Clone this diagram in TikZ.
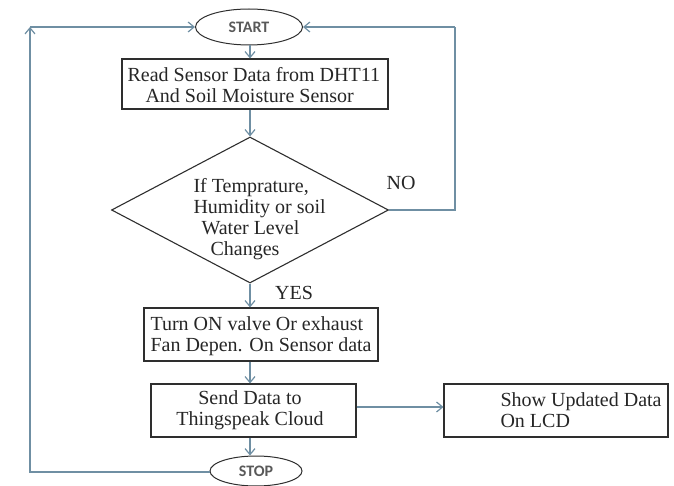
\documentclass[tikz,border=0pt]{standalone}
\usepackage{fontspec}
\setmainfont{Liberation Serif}
\newfontfamily\boxfont{Liberation Serif}
\newfontfamily\termfont{Carlito}
\usetikzlibrary{shapes.geometric,arrows.meta}
\definecolor{linkc}{HTML}{6F8FA3}
\definecolor{edgec}{HTML}{2E2E2E}
\begin{document}
\begin{tikzpicture}[x=1pt,y=-1pt,
  every node/.style={font=\boxfont\fontsize{20}{21}\selectfont, text=black!85},
  terminal/.style={ellipse,draw=edgec,line width=1pt,inner sep=0pt,font=\termfont\bfseries\fontsize{16}{18}\selectfont,text=black!65},
  proc/.style={rectangle,draw=edgec,line width=1.1pt,inner sep=0pt},
  decision/.style={diamond,draw=edgec,line width=1.1pt,inner sep=0pt,minimum width=277pt,minimum height=146pt},
  link/.style={draw=linkc,line width=1.2pt,-{Straight Barb[length=6pt,width=10pt]}},
  plain/.style={draw=linkc,line width=1.2pt}]
\useasboundingbox (0,0) rectangle (674,486);
% terminals
\node[terminal,minimum width=107pt,minimum height=36pt] (start) at (249,27) {START};
\node[terminal,minimum width=92pt,minimum height=30pt] (stop) at (256,471) {STOP};
% process boxes
\node[proc,minimum width=266pt,minimum height=50pt] (read) at (255,84) {};
\node[align=left,anchor=west] (readt) at (124,85) {Read Sensor Data from DHT11\\\hspace{18pt}And Soil Moisture Sensor};
\node[decision] (dec) at (250,210) {};
\node[align=left,anchor=west] (dect) at (190,219) {If Temprature,\\Humidity or soil\\\hspace{8pt}Water Level\\\hspace{17pt}Changes};
\node[proc,minimum width=234pt,minimum height=53pt] (turn) at (261,334.5) {};
\node[align=left,anchor=west] (turnt) at (147,336) {Turn ON valve Or exhaust\\Fan Depen. On Sensor data};
\node[proc,minimum width=205pt,minimum height=53pt] (send) at (253.5,410.5) {};
\node[align=center] (sendt) at (250,410) {Send Data to\\Thingspeak Cloud};
\node[proc,minimum width=224pt,minimum height=53pt] (lcd) at (556,410.5) {};
\node[align=left,anchor=west] (lcdt) at (497,410) {Show Updated Data\\On LCD};
% branch labels
\node (yes) at (294,293) {YES};
\node (no) at (401,183) {NO};
% loop corners
\coordinate (lc) at (30,27);
\coordinate (lb) at (30,472);
\coordinate (rc) at (455,27);
\coordinate (rb) at (455,210);
% connectors
\draw[link] (start.south -| 250,0) -- (250,0 |- read.north);
\draw[link] (250,0 |- read.south) -- (dec.north);
\draw[link] (dec.south) -- (250,0 |- turn.north);
\draw[link] (250,0 |- turn.south) -- (250,0 |- send.north);
\draw[link] (250,0 |- send.south) -- (250,0 |- stop.north);
\draw[link] (send.east |- 0,407) -- (lcd.west |- 0,407);
\draw[plain] (dec.east) -- (rb) -- (rc);
\draw[link] (rc) -- (start.east);
\draw[link] (stop.west |- lb) -- (lb) -- (lc);
\draw[link] (lc) -- (start.west);
\end{tikzpicture}
\end{document}
